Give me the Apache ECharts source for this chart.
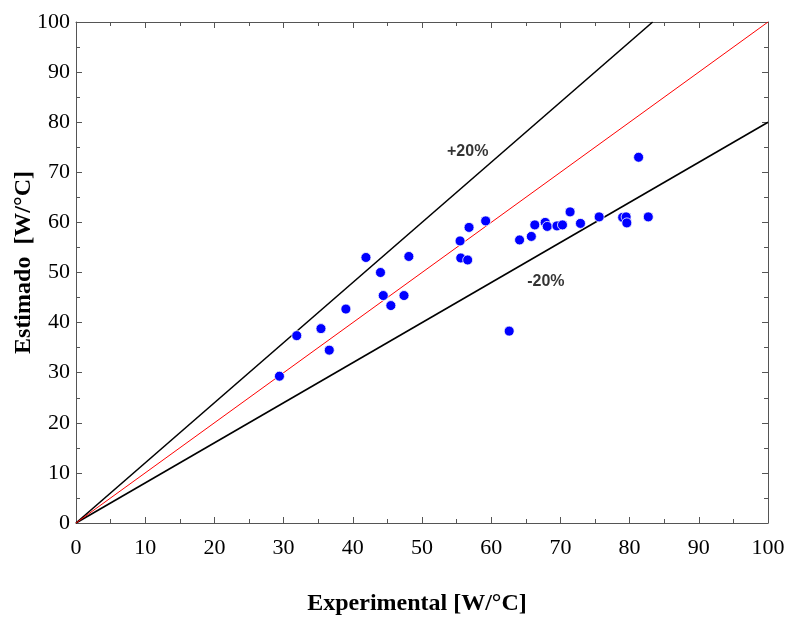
<!DOCTYPE html>
<html>
<head>
<meta charset="utf-8">
<script src="https://cdn.jsdelivr.net/npm/echarts@6/dist/echarts.min.js"></script>
<style>
html,body{margin:0;padding:0;background:#fff;}
#chart{width:790px;height:619px;}
</style>
</head>
<body>
<div id="chart"></div>
<script>
// Data (Experimental, Estimado)
var experimental = [29.4, 31.9, 35.4, 36.6, 39.0, 41.9, 44.0, 44.4, 45.5, 47.4, 48.1, 55.5, 55.6, 56.6, 56.8, 59.2, 62.6, 64.1, 65.8, 66.3, 67.8, 68.1, 69.5, 70.3, 71.4, 72.9, 75.6, 79.0, 79.5, 79.6, 81.3, 82.7];
var estimado =     [29.3, 37.4, 38.8, 34.5, 42.7, 53.0, 50.0, 45.4, 43.4, 45.4, 53.2, 56.3, 52.9, 52.5, 59.0, 60.3, 38.3, 56.5, 57.2, 59.5, 60.0, 59.2, 59.3, 59.5, 62.1, 59.8, 61.1, 61.0, 61.1, 59.9, 73.0, 61.1];
var lineIdeal = [[0, 0], [100, 100]];
var linePlus20 = [[0, 0], [83.33, 100]];
var lineMinus20 = [[0, 0], [100, 80]];
var bandLabels = [[56.6, 74.2, '+20%'], [67.9, 48.2, '-20%']];
var axisTicks = [0, 10, 20, 30, 40, 50, 60, 70, 80, 90, 100];

var points = experimental.map(function (x, i) { return [x, estimado[i]]; });

var chart = echarts.init(document.getElementById('chart'), null, {renderer: 'canvas'});

var axisLineStyle = {color: '#555', width: 1};
function baseAxis(extra) {
  var a = {
    type: 'value', min: 0, max: 100, interval: 10,
    axisLine: {show: true, onZero: false, lineStyle: axisLineStyle},
    axisTick: {show: true, inside: true, length: 6, lineStyle: axisLineStyle},
    minorTick: {show: true, splitNumber: 2, length: 4, lineStyle: axisLineStyle},
    splitLine: {show: false},
    minorSplitLine: {show: false}
  };
  for (var k in extra) a[k] = extra[k];
  return a;
}

var serif = '"Liberation Serif", "Times New Roman", serif';

chart.setOption({
  animation: false,
  backgroundColor: '#fff',
  grid: {left: 76, right: 22, top: 22, bottom: 96, containLabel: false, outerBoundsMode: 'none'},
  xAxis: [
    baseAxis({
      position: 'bottom',
      name: 'Experimental [W/°C]', nameLocation: 'middle', nameGap: 69, nameMoveOverlap: false,
      nameTextStyle: {fontFamily: serif, fontWeight: 'bold', fontSize: 24, color: '#000', padding: [0, 10, 0, 0]},
      axisLabel: {show: true, margin: 14, fontFamily: serif, fontSize: 22, color: '#000',
        formatter: function (v) { return axisTicks.indexOf(v) >= 0 ? String(v) : ''; }}
    }),
    baseAxis({position: 'top', axisLabel: {show: false}})
  ],
  yAxis: [
    baseAxis({
      position: 'left',
      name: 'Estimado  [W/°C]', nameLocation: 'middle', nameGap: 40, nameMoveOverlap: false,
      nameTextStyle: {fontFamily: serif, fontWeight: 'bold', fontSize: 24, color: '#000', padding: [0, 0, 0, 20]},
      axisLabel: {show: true, margin: 6, fontFamily: serif, fontSize: 22, color: '#000',
        formatter: function (v) { return axisTicks.indexOf(v) >= 0 ? String(v) : ''; }}
    }),
    baseAxis({position: 'right', axisLabel: {show: false}})
  ],
  series: [
    {
      type: 'line', data: linePlus20, symbol: 'none', silent: true,
      lineStyle: {color: '#000', width: 1.6}, z: 2
    },
    {
      type: 'line', data: lineMinus20, symbol: 'none', silent: true,
      lineStyle: {color: '#000', width: 1.6}, z: 2
    },
    {
      type: 'line', data: lineIdeal, symbol: 'none', silent: true,
      lineStyle: {color: '#ff0000', width: 1}, z: 3
    },
    {
      type: 'scatter', data: points, symbol: 'circle', symbolSize: 10,
      itemStyle: {color: '#0000ff', borderColor: '#fff', borderWidth: 0.8, opacity: 1}, z: 5
    },
    {
      type: 'scatter', data: bandLabels, symbolSize: 0, silent: true,
      label: {
        show: true, position: 'inside',
        formatter: function (p) { return p.data[2]; },
        fontFamily: '"Liberation Sans", Arial, sans-serif', fontWeight: 'bold', fontSize: 16, color: '#000',
        textBorderWidth: 0
      }, z: 6
    }
  ]
});
</script>
</body>
</html>
